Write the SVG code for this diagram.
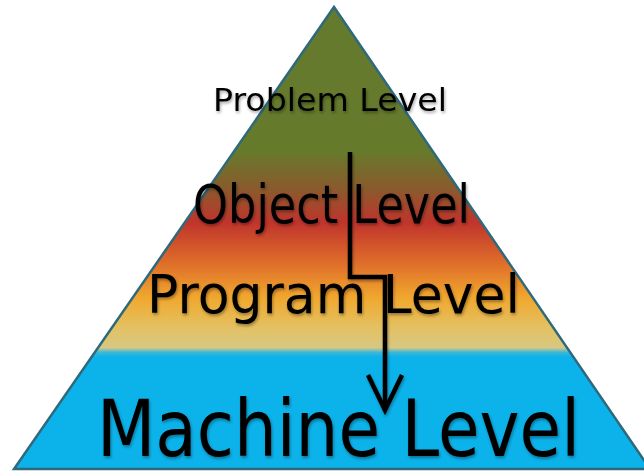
<svg xmlns="http://www.w3.org/2000/svg" width="644" height="473" viewBox="0 0 644 473">
  <defs>
    <linearGradient id="grad" gradientUnits="userSpaceOnUse" x1="0" y1="0" x2="0" y2="473">
      <stop offset="0" stop-color="#647a2c"/>
      <stop offset="0.32" stop-color="#667a2c"/>
      <stop offset="0.40" stop-color="#8a5a2c"/>
      <stop offset="0.47" stop-color="#c0342c"/>
      <stop offset="0.56" stop-color="#e0702a"/>
      <stop offset="0.63" stop-color="#f0a82e"/>
      <stop offset="0.69" stop-color="#e4c060"/>
      <stop offset="0.735" stop-color="#d8c882"/>
      <stop offset="0.745" stop-color="#3cb8d8"/>
      <stop offset="0.755" stop-color="#0cb2ea"/>
      <stop offset="1" stop-color="#0cb2ea"/>
    </linearGradient>
    <filter id="sh" x="-10%" y="-20%" width="120%" height="140%">
      <feGaussianBlur in="SourceAlpha" stdDeviation="1.5"/>
      <feOffset dx="1" dy="2" result="b"/>
      <feComponentTransfer><feFuncA type="linear" slope="0.35"/></feComponentTransfer>
      <feMerge><feMergeNode/><feMergeNode in="SourceGraphic"/></feMerge>
    </filter>
  </defs>
  <style>
    .lbl { font-family: "DejaVu Sans", "Liberation Sans", sans-serif; fill: #000; }
    .conn { fill: none; stroke: #000; stroke-width: 4.5; stroke-linejoin: miter; }
  </style>
  <g id="pyramid">
    <polygon points="334,7 14,469 650,469" fill="url(#grad)" stroke="#2e6a7c" stroke-width="2.5"/>
  </g>
  <g id="problem-level" filter="url(#sh)">
    <text class="lbl" x="213" y="111" font-size="32" textLength="234" lengthAdjust="spacingAndGlyphs">Problem Level</text>
  </g>
  <g id="object-level" filter="url(#sh)">
    <text class="lbl" x="193" y="223" font-size="53" textLength="277" lengthAdjust="spacingAndGlyphs">Object Level</text>
  </g>
  <g id="program-level" filter="url(#sh)">
    <text class="lbl" x="147" y="313" font-size="53" textLength="373" lengthAdjust="spacingAndGlyphs">Program Level</text>
  </g>
  <g id="machine-level" filter="url(#sh)">
    <text class="lbl" x="97" y="456" font-size="78" textLength="483" lengthAdjust="spacingAndGlyphs">Machine Level</text>
  </g>
  <g id="connectors" filter="url(#sh)">
    <polyline class="conn" points="350,152 350,277 385,277 385,410"/>
    <polyline class="conn" points="368,375 385,410 402,375" stroke-linejoin="round"/>
  </g>
</svg>
